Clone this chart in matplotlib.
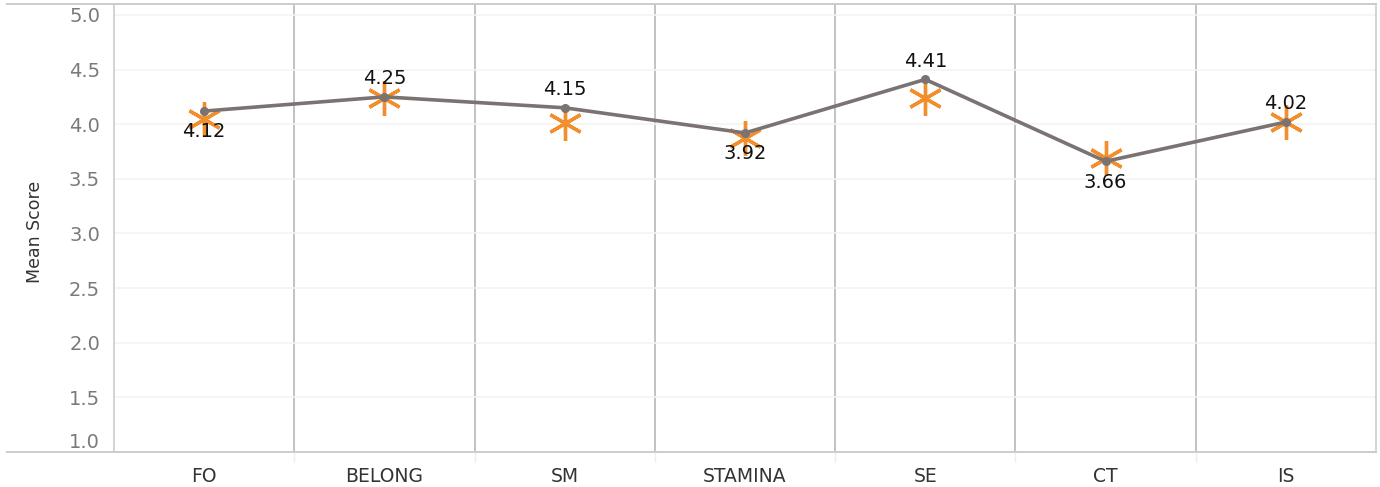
import numpy as np
import matplotlib
matplotlib.use("Agg")
import matplotlib.pyplot as plt

categories = ["FO", "BELONG", "SM", "STAMINA", "SE", "CT", "IS"]
mean_scores = [4.12, 4.25, 4.15, 3.92, 4.41, 3.66, 4.02]
compare_scores = [4.05, 4.24, 4.01, 3.87, 4.24, 3.69, 4.02]
label_above = [False, True, True, False, True, False, True]
y_ticks = [1.0, 1.5, 2.0, 2.5, 3.0, 3.5, 4.0, 4.5, 5.0]

plt.rcParams["font.family"] = ["DejaVu Sans"]

fig = plt.figure(figsize=(13.8, 4.87), dpi=100)
ax = fig.add_axes([114 / 1380, 35 / 487, 1262 / 1380, 448 / 487])

x = np.arange(len(categories))

# orange comparison markers sit under the line
ax.plot(x, compare_scores, linestyle="None", marker=(6, 2, 0), markersize=25,
        markeredgewidth=2.4, color="#f28e2b", zorder=3)
ax.plot(x, mean_scores, color="#7a7371", linewidth=2.6, marker="o",
        markersize=5.5, zorder=4)

for xi, val, up in zip(x, mean_scores, label_above):
    off = 13 if up else -15
    ax.annotate(f"{val:.2f}", (xi, val), xytext=(0, off), textcoords="offset points",
                ha="center", va="center", fontsize=14, color="#111111", zorder=5)

ax.set_xlim(-0.5, len(categories) - 0.5)
ax.set_ylim(1.0, 5.1)

ax.set_yticks(y_ticks)
ax.set_yticklabels([f"{t:.1f}" for t in y_ticks], fontsize=14, color="#7a7a7a")
ax.get_yticklabels()[0].set_va("bottom")
ax.tick_params(axis="y", length=0, pad=10)
ax.grid(axis="y", color="#f3f3f3", linewidth=1.2)

ax.set_xticks(x)
ax.set_xticklabels(categories, fontsize=13.5, color="#333333")
ax.tick_params(axis="x", which="major", length=0, pad=11)
ax.set_xticks(np.arange(0.5, len(categories) - 1, 1.0), minor=True)
ax.tick_params(axis="x", which="minor", length=7, color="#eeeeee", width=1)
for b in np.arange(0.5, len(categories) - 1, 1.0):
    ax.axvline(b, color="#b8b8b8", linewidth=1.2, zorder=1)

for side in ["left", "right", "top", "bottom"]:
    ax.spines[side].set_color("#cccccc")
    ax.spines[side].set_linewidth(1.2)
ax.spines["top"].set_visible(False)
ax.spines["bottom"].set_visible(False)

# top and bottom rules run out past the y axis
x0 = (7 - 114) / 1262
for yy in (0, 1):
    ax.plot([x0, 1], [yy, yy], transform=ax.transAxes, color="#cccccc",
            linewidth=1.4, clip_on=False, zorder=6)

fig.text(35 / 1380, 1 - 232 / 487, "Mean Score", rotation=90, ha="center", va="center",
         fontsize=12.5, color="#333333")

fig.savefig("out.png", dpi=100)
